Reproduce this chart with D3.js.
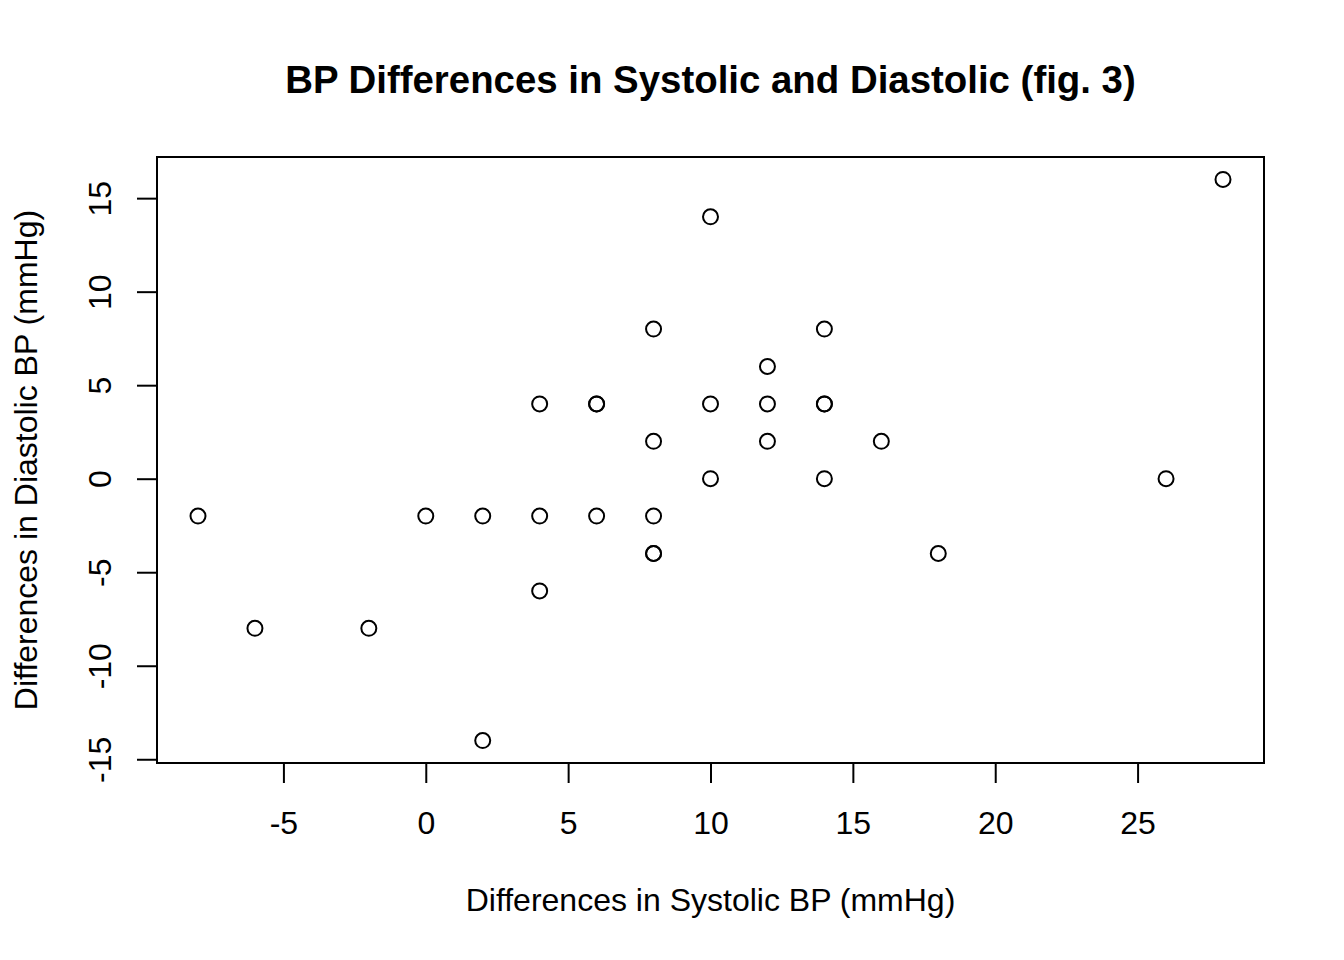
<!DOCTYPE html>
<html>
<head>
<meta charset="utf-8">
<script src="https://cdn.jsdelivr.net/npm/d3@7"></script>
<style>
  body { margin: 0; background: #fff; }
  text { font-family: "Liberation Sans", Arial, Helvetica, sans-serif; fill: #000; }
</style>
</head>
<body>
<div class="chart"></div>
<script>
// data (duplicates kept where points overlap)
const systolic = [-8, -6, -2, 0, 2, 2, 4, 4, 4, 6, 6, 6, 8, 8, 8, 8, 8, 10, 10, 10, 12, 12, 12, 14, 14, 14, 14, 16, 18, 26, 28];
const diastolic = [-2, -8, -8, -2, -2, -14, 4, -2, -6, 4, 4, -2, 8, 2, -2, -4, -4, 14, 4, 0, 6, 4, 2, 8, 4, 4, 0, 2, -4, 0, 16];
const xTicks = [-5, 0, 5, 10, 15, 20, 25];
const yTicks = [-15, -10, -5, 0, 5, 10, 15];

const title = "BP Differences in Systolic and Diastolic (fig. 3)";
const xLabel = "Differences in Systolic BP (mmHg)";
const yLabel = "Differences in Diastolic BP (mmHg)";

// global svg variables
let width = 1344;
let height = 960;
let plotLeft = 157, plotRight = 1264, plotTop = 157, plotBottom = 763;

let points = systolic.map((s, i) => ({ x: s, y: diastolic[i] }));

// R style 4% padding on both ends
let xPad = (d3.max(systolic) - d3.min(systolic)) * 0.04;
let yPad = (d3.max(diastolic) - d3.min(diastolic)) * 0.04;

let x = d3
  .scaleLinear()
  .domain([d3.min(systolic) - xPad, d3.max(systolic) + xPad])
  .range([plotLeft, plotRight]);

let y = d3
  .scaleLinear()
  .domain([d3.min(diastolic) - yPad, d3.max(diastolic) + yPad])
  .range([plotBottom, plotTop]);

// plain hyphen minus, like R
let fmt = d => String(d);

let graph = d3
  .select(".chart")
  .append("svg")
  .attr("width", width)
  .attr("height", height);

// x axis
let xAxis = graph
  .append("g")
  .attr("transform", `translate(0,${plotBottom})`)
  .call(d3.axisBottom(x).tickValues(xTicks).tickSize(20).tickFormat(fmt));
xAxis.select(".domain").remove();
xAxis.selectAll("line").attr("stroke", "#000").attr("stroke-width", 2);
xAxis
  .selectAll("text")
  .attr("y", 71)
  .attr("dy", 0)
  .style("font-size", "32px")
  .style("font-family", "Liberation Sans, Arial, sans-serif");

// y axis, labels rotated like R's default las=0
let yAxis = graph
  .append("g")
  .attr("transform", `translate(${plotLeft},0)`)
  .call(d3.axisLeft(y).tickValues(yTicks).tickSize(20).tickFormat(fmt));
yAxis.select(".domain").remove();
yAxis.selectAll("line").attr("stroke", "#000").attr("stroke-width", 2);
yAxis
  .selectAll("text")
  .attr("x", 0)
  .attr("dy", 0)
  .attr("transform", "translate(-46,0) rotate(-90)")
  .attr("text-anchor", "middle")
  .style("font-size", "32px")
  .style("font-family", "Liberation Sans, Arial, sans-serif");

// plot box
graph
  .append("rect")
  .attr("x", plotLeft)
  .attr("y", plotTop)
  .attr("width", plotRight - plotLeft)
  .attr("height", plotBottom - plotTop)
  .attr("fill", "none")
  .attr("stroke", "#000")
  .attr("stroke-width", 2);

// points
graph
  .append("g")
  .selectAll("circle")
  .data(points)
  .enter()
  .append("circle")
  .attr("cx", d => x(d.x))
  .attr("cy", d => y(d.y))
  .attr("r", 7.5)
  .attr("fill", "none")
  .attr("stroke", "#000")
  .attr("stroke-width", 2);

// title
graph
  .append("text")
  .text(title)
  .attr("x", (plotLeft + plotRight) / 2)
  .attr("y", 93)
  .attr("text-anchor", "middle")
  .style("font-size", "38.4px")
  .style("font-weight", "bold");

// x axis title
graph
  .append("text")
  .text(xLabel)
  .attr("x", (plotLeft + plotRight) / 2)
  .attr("y", 911)
  .attr("text-anchor", "middle")
  .style("font-size", "32px");

// y axis title
graph
  .append("text")
  .text(yLabel)
  .attr("transform", `translate(37,${(plotTop + plotBottom) / 2}) rotate(-90)`)
  .attr("text-anchor", "middle")
  .style("font-size", "32px");
</script>
</body>
</html>
